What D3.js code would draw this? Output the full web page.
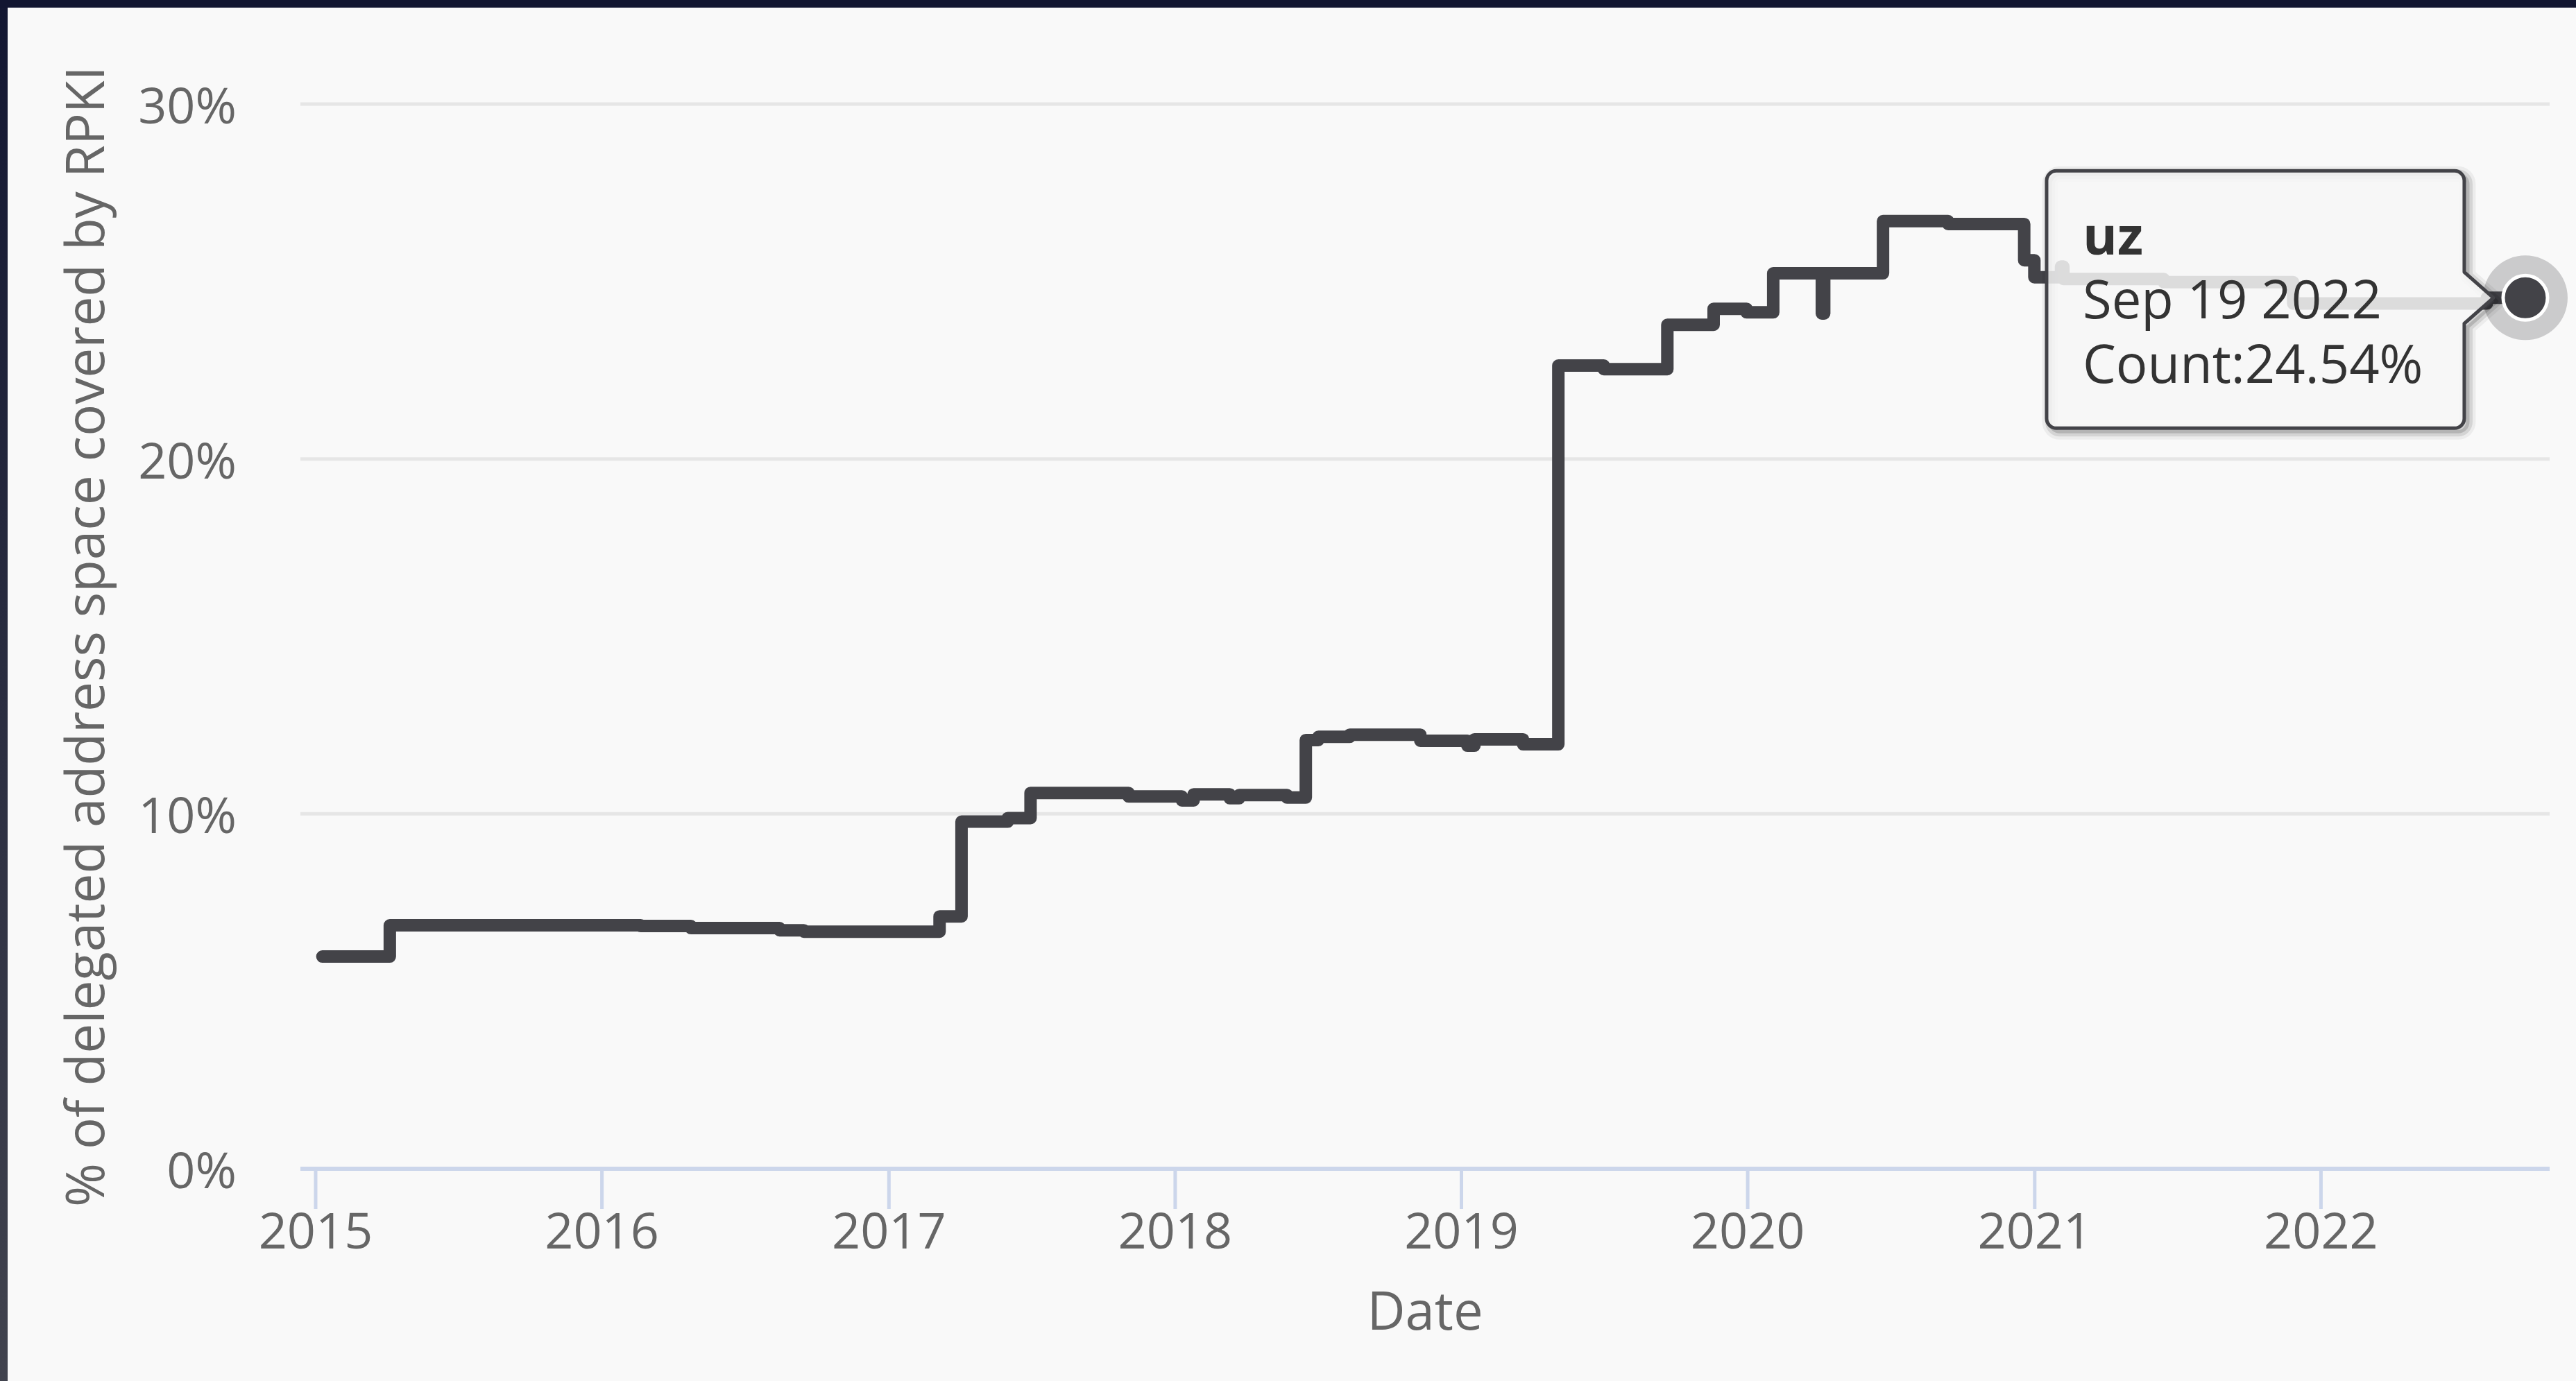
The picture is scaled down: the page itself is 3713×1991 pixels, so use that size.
<!DOCTYPE html>
<html><head><meta charset="utf-8">
<script src="https://cdn.jsdelivr.net/npm/d3@7/dist/d3.min.js"></script>
<style>html,body{margin:0;padding:0;background:#f9f9f9;overflow:hidden}</style>
</head><body>
<svg id="chart" width="3713" height="1991"></svg>
<script>
// ---- data ----
const seriesName = "uz";
const dates = [
  "2015-01-10","2015-04-06","2016-02-20","2016-04-24","2016-08-15","2016-09-15",
  "2017-03-07","2017-04-04","2017-06-02","2017-07-01","2017-11-03","2018-01-10",
  "2018-01-25","2018-03-12","2018-03-24","2018-05-24","2018-06-17","2018-07-03",
  "2018-08-12","2018-11-10","2019-01-09","2019-01-18","2019-03-21","2019-05-05",
  "2019-07-02","2019-09-21","2019-11-19","2019-12-31","2020-02-03","2020-04-05",
  "2020-04-08","2020-06-22","2020-09-13","2020-12-19","2021-01-01","2021-02-04",
  "2021-02-07","2021-06-15","2021-11-27","2022-08-01","2022-09-19"
];
const values = [
  5.98, 6.86, 6.84, 6.78, 6.72, 6.68,
  7.11, 9.78, 9.88, 10.59, 10.49, 10.38,
  10.55, 10.44, 10.53, 10.46, 12.08, 12.17,
  12.23, 12.06, 11.92, 12.10, 11.96, 22.63,
  22.53, 23.78, 24.23, 24.13, 25.23, 24.10,
  25.23, 26.70, 26.62, 25.60, 25.12, 25.42,
  25.07, 24.98, 24.38, 24.54, 24.54
];
const yTickValues = [0, 10, 20, 30];
const xTickYears = [2015, 2016, 2017, 2018, 2019, 2020, 2021, 2022];
const xDomain = ["2014-12-13", "2022-10-20"];
const yTitle = "% of delegated address space covered by RPKI";
const xTitle = "Date";

// ---- setup ----
const W = 3713, H = 1991;
const pL = 433, pR = 3675, pT = 150, pB = 1685;
const font = "'Open Sans', 'Noto Sans', sans-serif";
const parse = d3.utcParse("%Y-%m-%d");
const data = dates.map((d, i) => ({ date: parse(d), value: values[i] }));

const svg = d3.select("#chart");
const defs = svg.append("defs");
const grad = defs.append("linearGradient").attr("id", "frameGrad")
  .attr("x1", 0).attr("y1", 0).attr("x2", 0).attr("y2", 1);
grad.append("stop").attr("offset", "0%").attr("stop-color", "#131732");
grad.append("stop").attr("offset", "100%").attr("stop-color", "#41434e");

svg.append("rect").attr("width", W).attr("height", H).attr("fill", "#f9f9f9");

const x = d3.scaleUtc().domain(xDomain.map(parse)).range([pL, pR]);
const y = d3.scaleLinear().domain([0, 30]).range([pB, pT]);

// gridlines
svg.append("g").selectAll("line").data(yTickValues.filter(v => v > 0)).join("line")
  .attr("x1", pL).attr("x2", pR)
  .attr("y1", d => y(d)).attr("y2", d => y(d))
  .attr("stroke", "#e6e6e6").attr("stroke-width", 5);

// x axis
const xAxis = d3.axisBottom(x)
  .tickValues(xTickYears.map(yr => new Date(Date.UTC(yr, 0, 1))))
  .tickFormat(d3.utcFormat("%Y"))
  .tickSizeInner(58).tickSizeOuter(0).tickPadding(6);
const gx = svg.append("g").attr("transform", `translate(0,${pB})`).call(xAxis);
gx.select(".domain").remove();
gx.selectAll(".tick line").attr("stroke", "#ccd6eb").attr("stroke-width", 5);
gx.selectAll(".tick text").attr("fill", "#666666")
  .style("font-family", font).style("font-size", "72px");
svg.append("line").attr("x1", pL).attr("x2", pR)
  .attr("y1", pB).attr("y2", pB)
  .attr("stroke", "#ccd6eb").attr("stroke-width", 6);

// y axis
const yAxis = d3.axisLeft(y).tickValues(yTickValues)
  .tickFormat(d => d + "%").tickSize(0).tickPadding(92);
const gy = svg.append("g").attr("transform", `translate(${pL},0)`).call(yAxis);
gy.select(".domain").remove();
gy.selectAll(".tick text").attr("fill", "#666666").attr("dy", "0.38em")
  .style("font-family", font).style("font-size", "72px");

// axis titles
const yt = svg.append("text")
  .attr("transform", `translate(150,${(95 + 1740) / 2}) rotate(-90)`)
  .attr("text-anchor", "middle").attr("fill", "#666666")
  .style("font-family", font).style("font-size", "74px").text(yTitle);
const len = yt.node().getComputedTextLength();
yt.style("font-size", (74 * 1645 / len).toFixed(2) + "px");

svg.append("text").attr("x", (pL + pR) / 2).attr("y", 1917)
  .attr("text-anchor", "middle").attr("fill", "#666666")
  .style("font-family", font).style("font-size", "76px").text(xTitle);

// series line
const line = d3.line().x(d => x(d.date)).y(d => y(d.value)).curve(d3.curveStepAfter);
svg.append("path").datum(data).attr("d", line)
  .attr("fill", "none").attr("stroke", "#434348").attr("stroke-width", 18)
  .attr("stroke-linejoin", "round").attr("stroke-linecap", "round");

// hover marker halo
const last = data[data.length - 1];
const mx = x(last.date), my = y(last.value);
svg.append("circle").attr("cx", mx).attr("cy", my).attr("r", 61)
  .attr("fill", "#434348").attr("fill-opacity", 0.25);

// tooltip
const bx1 = mx - 690, bx2 = mx - 88, by1 = my - 183, by2 = my + 188, r = 14;
const tipX = mx - 46;
const tp = d3.path();
tp.moveTo(bx1 + r, by1);
tp.lineTo(bx2 - r, by1);
tp.arcTo(bx2, by1, bx2, by1 + r, r);
tp.lineTo(bx2, my - 37);
tp.lineTo(tipX, my);
tp.lineTo(bx2, my + 37);
tp.lineTo(bx2, by2 - r);
tp.arcTo(bx2, by2, bx2 - r, by2, r);
tp.lineTo(bx1 + r, by2);
tp.arcTo(bx1, by2, bx1, by2 - r, r);
tp.lineTo(bx1, by1 + r);
tp.arcTo(bx1, by1, bx1 + r, by1, r);
tp.closePath();
const tg = svg.append("g");
[[23, 0.05], [14, 0.1], [5, 0.15]].forEach(([w, o]) => {
  tg.append("path").attr("d", tp.toString()).attr("transform", "translate(5,5)")
    .attr("fill", "none").attr("stroke", "#000").attr("stroke-opacity", o)
    .attr("stroke-width", w).attr("stroke-linejoin", "round");
});
tg.append("path").attr("d", tp.toString())
  .attr("fill", "rgba(247,247,247,0.85)").attr("stroke", "#434348")
  .attr("stroke-width", 5).attr("stroke-linejoin", "round");

svg.append("circle").attr("cx", mx).attr("cy", my).attr("r", 32)
  .attr("fill", "#434348").attr("stroke", "#ffffff").attr("stroke-width", 5);

const tx = bx1 + 52;
const fmt = d3.utcFormat("%b %d %Y");
const tt = svg.append("text").attr("fill", "#333333")
  .style("font-family", font).style("font-size", "76px");
tt.append("tspan").attr("x", tx).attr("y", my - 62).style("font-weight", "bold").text(seriesName);
tt.append("tspan").attr("x", tx).attr("y", my + 30).text(fmt(last.date));
tt.append("tspan").attr("x", tx).attr("y", my + 123).text("Count:" + last.value.toFixed(2) + "%");

// dark frame (page edges)
svg.append("rect").attr("x", 0).attr("y", 0).attr("width", 11).attr("height", H).attr("fill", "url(#frameGrad)");
svg.append("rect").attr("x", 0).attr("y", 0).attr("width", W).attr("height", 11).attr("fill", "#121631");
</script>
</body></html>
